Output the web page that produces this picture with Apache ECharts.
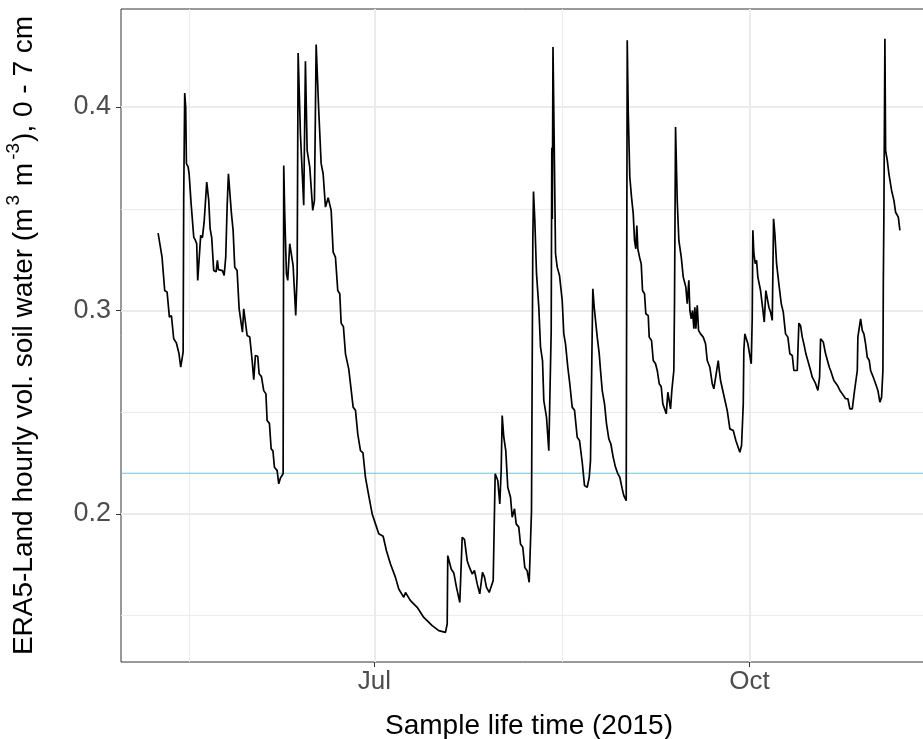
<!DOCTYPE html>
<html>
<head>
<meta charset="utf-8">
<script src="https://cdn.jsdelivr.net/npm/echarts@6/dist/echarts.min.js"></script>
<style>
  html, body { margin: 0; padding: 0; background: #fff; }
  #chart { width: 923px; height: 739px; }
</style>
</head>
<body>
<div id="chart"></div>
<script>
// day of year 2015 (1 = Jan 1 00:00)
const dayOfYear = [
  128.93,129.9,130.55,131.14,131.7,132.2,132.76,133.42,134.04,134.48,
  135.07,135.21,135.46,135.7,135.88,136.29,136.54,137.03,137.67,138.08,
  138.4,138.65,139.07,139.38,139.8,140.22,140.86,141.35,141.69,142.08,
  142.57,143.16,143.48,143.73,144.71,145.13,145.52,145.86,146.18,146.5,
  146.92,147.33,147.73,148.31,148.81,149.25,149.62,149.93,150.42,150.77,
  151.41,152.0,152.39,152.8,153.37,153.71,154.28,154.84,155.38,155.67,
  156.24,156.66,157.1,157.47,158.13,158.52,158.94,159.36,159.6,159.75,
  159.99,160.41,160.73,161.22,161.56,162.05,162.69,163.04,163.28,163.84,
  164.65,165.07,165.49,166.13,166.86,167.28,167.7,168.33,168.92,169.41,
  169.98,170.64,171.38,171.87,172.43,173.0,173.49,173.83,174.39,174.89,
  175.69,176.11,176.77,177.34,177.9,178.57,179.18,179.79,180.6,181.44,
  182.25,183.05,184.13,184.94,185.93,187.15,187.96,189.19,189.61,190.83,
  192.48,194.1,196.16,197.78,199.42,199.84,199.98,200.33,200.82,201.46,
  202.12,202.93,203.27,203.52,204.08,204.74,205.31,205.97,206.53,207.2,
  207.83,208.18,208.5,208.99,209.48,210.14,210.63,211.12,211.61,212.25,
  212.74,213.08,213.33,213.72,214.21,214.7,215.37,215.78,216.35,216.76,
  217.4,217.82,218.38,218.87,219.46,219.95,220.27,220.52,220.84,221.01,
  221.33,221.75,222.31,222.73,223.22,223.54,224.2,224.76,225.18,225.35,
  225.5,225.62,225.79,226.04,226.41,226.82,227.39,228.05,228.44,228.86,
  229.42,229.91,230.5,231.07,231.73,232.29,232.96,233.52,234.18,234.68,
  234.99,235.41,235.56,235.9,236.22,236.64,237.13,237.45,237.86,238.43,
  238.92,239.48,239.97,240.56,241.13,241.69,242.18,242.77,243.16,243.51,
  243.75,244.0,244.24,244.63,245.05,245.47,245.79,246.11,246.35,246.6,
  247.02,247.43,247.75,248.24,248.56,249.15,249.39,249.96,250.38,250.94,
  251.36,251.85,252.34,252.73,253.15,253.57,253.96,254.38,254.62,254.94,
  255.43,255.6,255.85,256.26,256.66,257.25,257.74,258.37,258.72,259.11,
  259.36,259.7,260.02,260.34,260.58,260.83,261.17,261.49,261.98,262.64,
  263.21,263.62,264.26,264.85,265.24,265.73,266.32,266.57,266.89,267.7,
  268.53,269.17,270.0,270.64,271.13,271.62,272.04,272.46,272.6,272.85,
  273.27,273.59,274.0,274.42,274.66,274.81,275.06,275.4,275.72,276.04,
  276.46,276.7,277.19,277.61,278.0,278.34,278.74,279.16,279.57,279.89,
  280.21,280.63,281.19,281.78,282.27,282.83,283.4,283.89,284.48,284.87,
  285.29,285.7,286.1,286.51,286.93,287.32,287.82,288.31,288.97,289.39,
  290.2,290.76,291.18,291.42,292.08,292.65,293.06,293.56,293.88,294.68,
  295.52,296.16,296.75,297.56,298.12,298.61,299.2,299.76,300.43,300.57,
  301.24,301.65,302.05,302.46,302.88,303.37,303.69,304.35,304.92,305.48,
  305.97,306.39,306.71,306.81,306.95,307.2,307.37,307.78,308.18,308.84,
  309.41,309.82,310.24,310.49,310.88
];

// ERA5-Land volumetric soil water, 0 - 7 cm (m3 m-3)
const soilWater = [
  0.338,0.3262,0.3098,0.309,0.2967,0.2975,0.2861,0.284,0.279,0.2721,
  0.2795,0.3541,0.4069,0.4,0.3722,0.3706,0.3672,0.3525,0.3361,0.3345,
  0.3328,0.3148,0.3148,0.3369,0.3358,0.3434,0.3631,0.3541,0.3402,0.3358,
  0.3197,0.319,0.3246,0.3201,0.3196,0.3172,0.3262,0.3508,0.3672,0.3665,
  0.3476,0.3394,0.3213,0.3197,0.3008,0.3008,0.2893,0.3008,0.3,0.2877,
  0.287,0.2754,0.266,0.2779,0.2775,0.2689,0.2675,0.2606,0.259,0.2459,
  0.2445,0.232,0.231,0.2229,0.2213,0.2148,0.2177,0.2172,0.2197,0.3713,
  0.3476,0.318,0.3148,0.3328,0.332,0.322,0.2975,0.318,0.4266,0.3869,
  0.3517,0.4225,0.3787,0.3705,0.3492,0.3541,0.4307,0.3984,0.3723,0.3672,
  0.3508,0.3554,0.3492,0.3287,0.3262,0.3098,0.3082,0.2938,0.292,0.2787,
  0.2713,0.264,0.2525,0.251,0.2394,0.2311,0.23,0.218,0.209,0.2,
  0.1951,0.1902,0.189,0.1819,0.1754,0.1688,0.1631,0.159,0.1614,0.1574,
  0.1541,0.1491,0.1451,0.1426,0.1418,0.1459,0.1795,0.179,0.1729,0.171,
  0.1639,0.1565,0.1565,0.1885,0.1875,0.177,0.1737,0.1705,0.1722,0.1656,
  0.1607,0.1607,0.1713,0.1689,0.1639,0.1614,0.1622,0.1672,0.2197,0.2164,
  0.2049,0.2213,0.2484,0.2377,0.2311,0.2131,0.2082,0.1984,0.2025,0.1951,
  0.1935,0.1852,0.1836,0.1737,0.172,0.1664,0.1672,0.2016,0.3344,0.3585,
  0.3443,0.3181,0.3016,0.282,0.2754,0.2557,0.2475,0.2311,0.232,0.29,
  0.38,0.345,0.4295,0.39,0.3279,0.3213,0.3172,0.3049,0.2885,0.2836,
  0.2721,0.264,0.2525,0.251,0.2377,0.2361,0.2254,0.2139,0.2131,0.218,
  0.2262,0.29,0.3107,0.3016,0.3008,0.2869,0.2787,0.2705,0.2607,0.2541,
  0.2443,0.2369,0.2345,0.2278,0.2229,0.2197,0.218,0.2123,0.209,0.2098,
  0.2065,0.4328,0.3984,0.3656,0.3557,0.3476,0.3344,0.3303,0.3418,0.3303,
  0.3262,0.3229,0.3098,0.3082,0.2984,0.2975,0.2869,0.2853,0.2754,0.2738,
  0.2705,0.264,0.2625,0.2541,0.2533,0.2492,0.2598,0.259,0.2516,0.2607,
  0.2705,0.3049,0.3902,0.3541,0.3344,0.3262,0.3164,0.3115,0.3033,0.3148,
  0.3,0.2959,0.3,0.291,0.3016,0.291,0.3025,0.2902,0.2885,0.2869,
  0.2836,0.2754,0.2721,0.264,0.2615,0.2607,0.2754,0.2705,0.2656,0.2582,
  0.2508,0.2418,0.241,0.2361,0.2352,0.2303,0.2336,0.2541,0.2803,0.2885,
  0.2888,0.2836,0.283,0.2738,0.2967,0.3394,0.3279,0.323,0.3246,0.3164,
  0.3172,0.3098,0.3016,0.2943,0.3098,0.3098,0.3016,0.2992,0.2951,0.3451,
  0.3377,0.323,0.3131,0.3033,0.2992,0.2885,0.2869,0.2787,0.2779,0.2705,
  0.2713,0.2705,0.2938,0.2925,0.2869,0.2836,0.2787,0.2779,0.2705,0.2672,
  0.264,0.2607,0.2672,0.2861,0.2845,0.2787,0.2779,0.2721,0.2705,0.2656,
  0.2633,0.2607,0.259,0.2566,0.2566,0.2516,0.2516,0.2607,0.2705,0.2869,
  0.2959,0.2902,0.2885,0.2836,0.277,0.2754,0.2705,0.2672,0.264,0.2607,
  0.2549,0.2574,0.2705,0.3131,0.3459,0.4336,0.3787,0.3738,0.3672,0.359,
  0.3541,0.3483,0.3475,0.3459,0.3394
];

const monthBreaks = ['2015-07-01', '2015-10-01'];
const monthLabels = ['Jul', 'Oct'];
const monthMinorBreaks = ['2015-05-16 12', '2015-08-16 00'];
const yBreaks = [0.2, 0.3, 0.4];
const yMinorBreaks = [0.15, 0.25, 0.35];
const threshold = 0.22;

const DAY = 86400000;
const yearStart = Date.UTC(2015, 0, 1);
const fromDoy = d => yearStart + (d - 1) * DAY;
const fromDate = s => {
  const [d, h] = s.split(' ');
  const [Y, M, D] = d.split('-').map(Number);
  return Date.UTC(Y, M - 1, D, h ? +h : 0);
};

const points = dayOfYear.map((d, i) => [fromDoy(d), soilWater[i]]);
const majorX = monthBreaks.map(fromDate);
const minorX = monthMinorBreaks.map(fromDate);

// ggplot style 5% expansion
const x0 = points[0][0], x1 = points[points.length - 1][0];
const xMin = x0 - (x1 - x0) * 0.05, xMax = x1 + (x1 - x0) * 0.05;
const v0 = Math.min(...soilWater), v1 = Math.max(...soilWater);
const yMin = v0 - (v1 - v0) * 0.05, yMax = v1 + (v1 - v0) * 0.05;

const FONT = 'Liberation Sans, Arial, sans-serif';
const GRID = '#EBEBEB';
const INK = '#333333';

const chart = echarts.init(document.getElementById('chart'));
chart.setOption({
  animation: false,
  grid: {
    left: 121, right: -14, top: 9, bottom: 77,
    outerBoundsMode: 'none', containLabel: false,
    show: true, borderColor: INK, borderWidth: 1, backgroundColor: '#fff'
  },
  xAxis: [{
    type: 'value', min: xMin, max: xMax,
    axisLine: { show: false },
    axisTick: { show: true, customValues: majorX, length: 5, lineStyle: { color: INK, width: 1 } },
    axisLabel: {
      customValues: majorX, margin: 7, fontSize: 26, color: '#4D4D4D', fontFamily: FONT,
      formatter: v => monthLabels[majorX.indexOf(v)] || ''
    },
    splitLine: { show: true, lineStyle: { color: GRID, width: 2 } },
    name: 'Sample life time (2015)', nameLocation: 'middle', nameGap: 50,
    nameTextStyle: { fontSize: 28, color: '#000', fontFamily: FONT }
  }, {
    type: 'value', min: xMin, max: xMax, position: 'bottom',
    axisLine: { show: false },
    axisTick: { show: false, customValues: minorX },
    axisLabel: { show: false, customValues: minorX },
    splitLine: { show: true, lineStyle: { color: GRID, width: 1 } }
  }],
  yAxis: [{
    type: 'value', min: yMin, max: yMax,
    axisLine: { show: false },
    axisTick: { show: true, customValues: yBreaks, length: 5, lineStyle: { color: INK, width: 1 } },
    axisLabel: {
      customValues: yBreaks, margin: 10, fontSize: 27, color: '#4D4D4D', fontFamily: FONT,
      formatter: v => v.toFixed(1)
    },
    splitLine: { show: true, lineStyle: { color: GRID, width: 2 } },
    name: '{a|ERA5-Land hourly vol. soil water (m}{s|3}{a| m}{s|-3}{a|), 0 - 7 cm}',
    nameLocation: 'middle', nameGap: 76, nameRotate: 90,
    nameTextStyle: {
      fontSize: 28, color: '#000', fontFamily: FONT,
      rich: {
        a: { fontSize: 28, color: '#000', fontFamily: FONT },
        s: { fontSize: 19, color: '#000', fontFamily: FONT, padding: [0, 1, 22, 3] }
      }
    }
  }, {
    type: 'value', min: yMin, max: yMax, position: 'left',
    axisLine: { show: false },
    axisTick: { show: false, customValues: yMinorBreaks },
    axisLabel: { show: false, customValues: yMinorBreaks },
    splitLine: { show: true, lineStyle: { color: GRID, width: 1 } }
  }],
  series: [{
    type: 'line',
    name: 'threshold',
    xAxisIndex: 0, yAxisIndex: 0,
    data: [[xMin, threshold], [xMax, threshold]],
    showSymbol: false,
    symbol: 'none',
    silent: true,
    z: 1,
    lineStyle: { color: '#6FC0DE', width: 1.2 }
  }, {
    type: 'line',
    name: 'soil water',
    xAxisIndex: 0, yAxisIndex: 0,
    data: points,
    showSymbol: false,
    symbol: 'none',
    z: 2,
    lineStyle: { color: '#000', width: 1.7 }
  }]
});
</script>
</body>
</html>
